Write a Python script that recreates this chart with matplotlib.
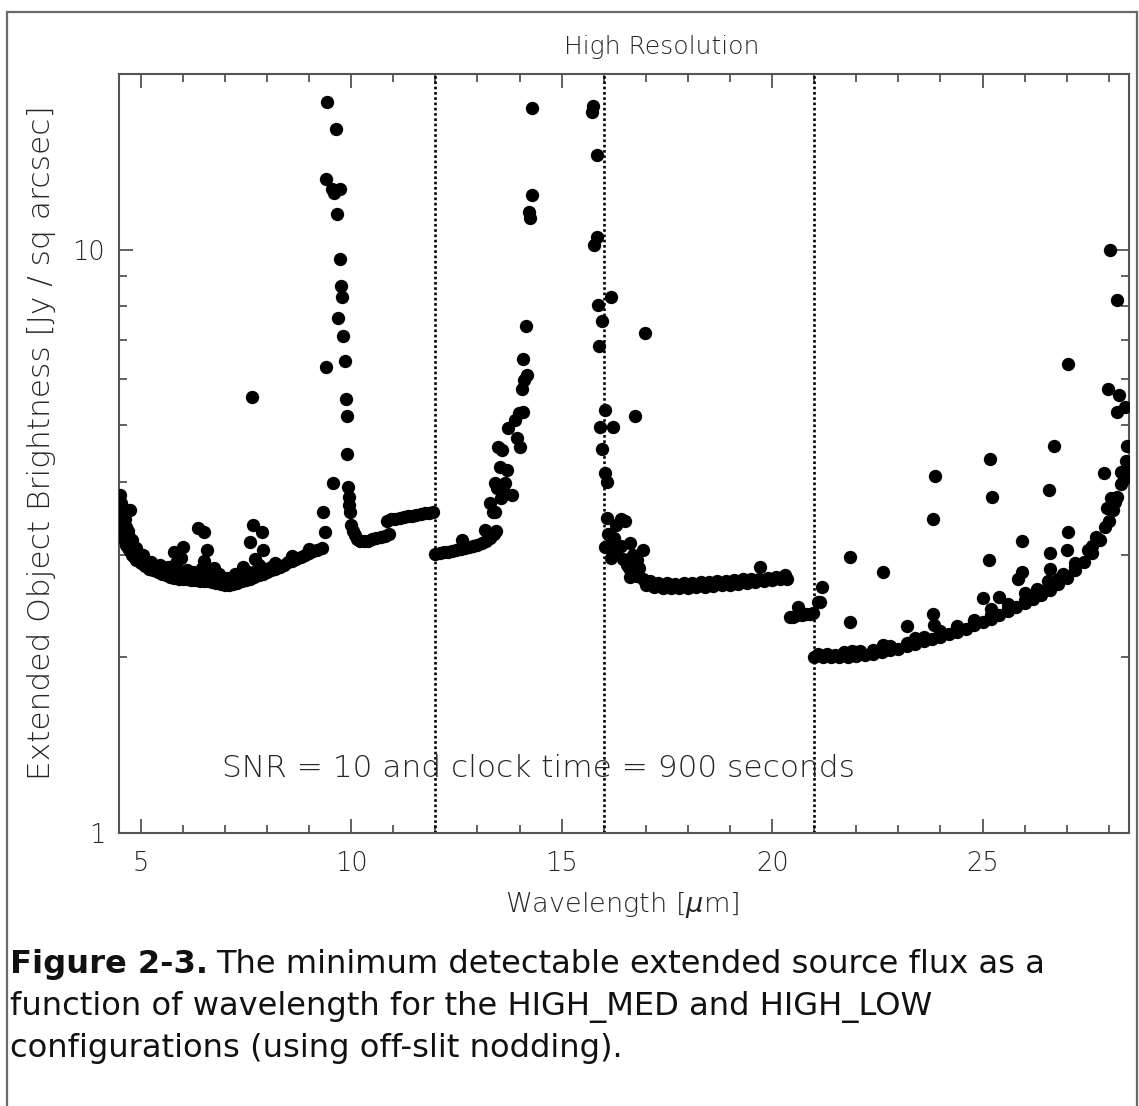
import matplotlib
matplotlib.use('Agg')
import matplotlib.pyplot as plt
from matplotlib.ticker import FixedLocator, NullFormatter, FixedFormatter
from matplotlib.patches import Rectangle

plt.rcParams['font.family'] = ['DejaVu Sans']

# ---------------- data (wavelength [um], brightness [Jy / sq arcsec]) ----------------
band_left = [(4.52, 3.80), (4.53, 3.68), (4.55, 3.58), (4.56, 3.48), (4.57, 3.40), (4.58, 3.32),
             (4.60, 3.24), (4.62, 3.17), (4.66, 3.12), (4.70, 3.08), (4.75, 3.04), (4.80, 3.00),
             (4.85, 2.97), (4.90, 2.94), (5.00, 2.90), (5.10, 2.87), (5.20, 2.84), (5.30, 2.82),
             (5.40, 2.80), (5.50, 2.78), (5.60, 2.77), (5.70, 2.75), (5.80, 2.74), (5.90, 2.73),
             (6.00, 2.72), (6.10, 2.72), (6.20, 2.71), (6.30, 2.71), (6.40, 2.70), (6.50, 2.70),
             (6.60, 2.70), (6.70, 2.69), (6.80, 2.68), (6.90, 2.67), (7.00, 2.66), (7.10, 2.66),
             (7.20, 2.67), (7.30, 2.68), (7.40, 2.70), (7.50, 2.71), (7.60, 2.73), (7.70, 2.75),
             (7.80, 2.77), (7.90, 2.78), (8.00, 2.80), (8.10, 2.82), (8.20, 2.84), (8.30, 2.86),
             (8.40, 2.88), (8.50, 2.91), (8.60, 2.93), (8.70, 2.95), (8.80, 2.97), (8.90, 3.00),
             (9.00, 3.02), (9.10, 3.04), (9.20, 3.06), (9.30, 3.08)]
scatter_left = [(4.75, 3.58), (4.62, 3.45), (4.70, 3.30), (4.80, 3.18), (4.90, 3.08), (5.05, 3.00),
                (5.25, 2.92), (5.45, 2.88), (5.65, 2.86), (5.80, 3.03), (5.85, 2.90), (5.95, 2.96),
                (6.00, 3.09), (6.10, 2.82), (6.25, 2.80), (6.37, 3.33), (6.50, 3.28), (6.57, 3.06),
                (6.50, 2.93), (6.45, 2.85), (6.65, 2.80), (6.75, 2.85), (6.85, 2.78), (7.05, 2.74),
                (7.25, 2.78), (7.43, 2.86), (7.55, 2.80), (7.60, 3.15), (7.67, 3.37), (7.88, 3.28),
                (7.90, 3.06), (7.72, 2.95), (7.80, 2.88), (7.64, 5.60), (8.20, 2.90), (8.60, 2.98),
                (9.00, 3.07), (5.15, 2.92), (5.35, 2.86), (5.55, 2.83), (5.75, 2.82), (5.95, 2.80),
                (6.15, 2.78), (6.35, 2.77), (6.55, 2.76), (6.75, 2.74), (6.95, 2.72), (7.15, 2.72),
                (7.35, 2.74), (7.50, 2.76), (7.70, 2.80), (7.95, 2.84), (8.10, 2.86), (4.66, 3.35),
                (4.72, 3.22), (4.58, 3.60)]
spike_10um = [(9.33, 3.55), (9.38, 3.28), (9.57, 3.98), (9.43, 17.9), (9.64, 16.1), (9.41, 13.2),
              (9.54, 12.7), (9.73, 12.7), (9.59, 12.5), (9.67, 11.5), (9.74, 9.65), (9.76, 8.65),
              (9.78, 8.30), (9.69, 7.62), (9.81, 7.11), (9.85, 6.45), (9.40, 6.30), (9.88, 5.55),
              (9.90, 5.18), (9.90, 4.47), (9.93, 3.92), (9.95, 3.76), (9.95, 3.65), (9.97, 3.55),
              (10.00, 3.37)]
band_11um = [(10.05, 3.30), (10.10, 3.24), (10.15, 3.19), (10.22, 3.16), (10.30, 3.16), (10.40, 3.17),
             (10.50, 3.19), (10.60, 3.20), (10.70, 3.22), (10.80, 3.23), (10.90, 3.25), (10.85, 3.43),
             (10.95, 3.45), (11.05, 3.46), (11.15, 3.47), (11.25, 3.48), (11.35, 3.49), (11.45, 3.50),
             (11.55, 3.51), (11.65, 3.52), (11.75, 3.53), (11.85, 3.54), (11.95, 3.55)]
band_13um = [(12.00, 3.01), (12.10, 3.02), (12.20, 3.03), (12.30, 3.03), (12.40, 3.04), (12.50, 3.05),
             (12.60, 3.07), (12.70, 3.08), (12.80, 3.09), (12.90, 3.10), (13.00, 3.12), (13.10, 3.14),
             (13.20, 3.17), (13.30, 3.21), (13.40, 3.26), (13.45, 3.30), (12.63, 3.18), (13.18, 3.31),
             (13.25, 3.24)]
rise_14um = [(13.37, 3.55), (13.30, 3.68), (13.41, 3.55), (13.41, 3.98), (13.60, 3.92), (13.82, 3.80),
             (13.53, 4.24), (13.70, 4.19), (13.49, 4.58), (13.58, 4.53), (13.72, 4.95), (13.89, 5.10),
             (13.94, 4.76), (14.00, 4.59), (13.99, 5.25), (14.08, 5.27), (14.06, 5.78), (14.10, 5.98),
             (14.17, 6.10), (14.08, 6.50), (14.15, 7.41), (14.22, 11.6), (14.24, 11.35), (14.29, 12.4),
             (14.29, 17.5), (13.46, 3.90), (13.65, 3.98), (13.55, 3.75)]
spike_16um = [(15.75, 17.6), (15.72, 17.2), (15.84, 14.5), (15.84, 10.5), (15.77, 10.2), (16.17, 8.3),
              (15.87, 8.05), (15.96, 7.55), (15.89, 6.84), (16.98, 7.2), (16.03, 5.32), (16.74, 5.18),
              (15.91, 4.97), (16.21, 4.97), (15.96, 4.56), (16.02, 4.14), (16.08, 4.00)]
scatter_17um = [(16.08, 3.47), (16.50, 3.42), (16.30, 3.37), (16.40, 3.45), (16.02, 3.09), (16.18, 2.96),
                (16.62, 3.14), (16.93, 3.06), (16.55, 2.88), (16.79, 2.94), (16.62, 2.75), (16.93, 2.72),
                (16.10, 3.25), (16.25, 3.20), (16.40, 3.10), (16.70, 3.00), (16.85, 2.85), (16.45, 2.95),
                (16.30, 3.05), (16.60, 2.85), (16.80, 2.76), (16.15, 3.12)]
band_18um = [(17.0, 2.66), (17.2, 2.64), (17.4, 2.63), (17.6, 2.63), (17.8, 2.63), (18.0, 2.63),
             (18.2, 2.64), (18.4, 2.64), (18.6, 2.65), (18.8, 2.66), (19.0, 2.66), (19.2, 2.67),
             (19.4, 2.68), (19.6, 2.69), (19.8, 2.70), (20.0, 2.71), (20.2, 2.72), (20.35, 2.72),
             (17.1, 2.70), (17.3, 2.68), (17.5, 2.68), (17.7, 2.67), (17.9, 2.68), (18.1, 2.68),
             (18.3, 2.69), (18.5, 2.69), (18.7, 2.70), (18.9, 2.70), (19.1, 2.71), (19.3, 2.72),
             (19.5, 2.72), (19.7, 2.73), (19.9, 2.74), (20.1, 2.75), (20.3, 2.77), (19.71, 2.86)]
band_21um = [(20.42, 2.35), (20.50, 2.35), (20.60, 2.36), (20.70, 2.36), (20.80, 2.37), (20.90, 2.37),
             (20.97, 2.38), (20.62, 2.44), (21.09, 2.49), (21.14, 2.49), (21.19, 2.64)]
band_long = [(21.0, 2.00), (21.2, 2.00), (21.4, 2.00), (21.6, 2.00), (21.8, 2.00), (22.0, 2.01),
             (22.2, 2.02), (22.4, 2.03), (22.6, 2.04), (22.8, 2.06), (23.0, 2.07), (23.2, 2.09),
             (23.4, 2.11), (23.6, 2.13), (23.8, 2.15), (24.0, 2.17), (24.2, 2.19), (24.4, 2.21),
             (24.6, 2.24), (24.8, 2.27), (25.0, 2.30), (25.2, 2.33), (25.4, 2.36), (25.6, 2.40),
             (25.8, 2.44), (26.0, 2.48), (26.2, 2.52), (26.4, 2.56), (26.6, 2.61), (26.8, 2.67),
             (27.0, 2.74), (27.2, 2.82), (27.4, 2.91), (27.6, 3.02), (27.8, 3.18), (28.0, 3.42),
             (28.1, 3.58), (28.2, 3.76), (28.3, 3.96), (28.42, 4.19),
             (21.1, 2.03), (21.5, 2.02), (22.0, 2.04), (22.4, 2.06), (22.8, 2.09), (23.2, 2.12),
             (23.6, 2.17), (24.0, 2.21), (24.4, 2.25), (24.8, 2.30), (25.2, 2.36), (25.6, 2.43),
             (26.0, 2.51), (26.4, 2.60), (26.8, 2.72), (27.2, 2.86), (27.6, 3.10), (27.9, 3.35),
             (28.15, 3.70), (28.35, 4.05)]
scatter_long = [(21.3, 2.03), (21.7, 2.04), (21.84, 2.97), (21.84, 2.30), (21.9, 2.05), (22.1, 2.05),
                (22.64, 2.80), (22.64, 2.10), (23.2, 2.26), (23.4, 2.16), (23.87, 4.09), (23.82, 3.46),
                (23.82, 2.37), (23.85, 2.27), (24.0, 2.22), (24.4, 2.26), (24.8, 2.32), (25.17, 4.37),
                (25.22, 3.77), (25.15, 2.94), (25.0, 2.53), (25.4, 2.54), (25.2, 2.42), (25.6, 2.47),
                (25.93, 3.17), (25.93, 2.80), (25.85, 2.72), (26.0, 2.58), (26.3, 2.62), (26.69, 4.60),
                (26.58, 3.87), (26.6, 3.02), (26.6, 2.83), (26.55, 2.70), (26.9, 2.78), (27.02, 6.37),
                (27.02, 3.28), (27.0, 3.06), (27.2, 2.90), (27.5, 3.05), (27.7, 3.22), (27.88, 4.14),
                (27.95, 3.60), (28.05, 3.75), (27.97, 5.78), (28.02, 10.0), (28.19, 8.2), (28.24, 5.64),
                (28.19, 5.26), (28.38, 5.38), (28.43, 4.60), (28.40, 4.35), (28.30, 4.15)]

module_edges = [12.0, 16.0, 21.0]
x_major = [5, 10, 15, 20, 25]
x_minor = [6, 7, 8, 9, 11, 12, 13, 14, 16, 17, 18, 19, 21, 22, 23, 24, 26, 27, 28]
y_major = [1, 10]
y_minor = [2, 3, 4, 5, 6, 7, 8, 9]

# ---------------- figure ----------------
W, H = 1139, 1106
fig = plt.figure(figsize=(W / 100, H / 100), dpi=100)
fig.patch.set_facecolor('white')

# outer frame
fig.add_artist(Rectangle((7 / W, -0.02), (1137 - 7) / W, 1 - 12 / H + 0.02,
                         transform=fig.transFigure, fill=False, edgecolor='#6a6a6a', lw=1.6))

ax = fig.add_axes([119 / W, 1 - 833 / H, (1128.6 - 119) / W, (833 - 74) / H])
ax.set_yscale('log')
ax.set_xlim(4.485, 28.47)
ax.set_ylim(1, 20)

segments = [band_left, scatter_left, spike_10um, band_11um, band_13um, rise_14um,
            spike_16um, scatter_17um, band_18um, band_21um, band_long, scatter_long]
for seg in segments:
    xs = [p[0] for p in seg]
    ys = [p[1] for p in seg]
    ax.plot(xs, ys, 'o', color='black', ms=9.6, mec='black', mew=0, zorder=3)

for xe in module_edges:
    ax.axvline(xe, color='black', lw=1.9, ls=(0, (1.0, 1.0)), zorder=2)

text_col = '#262626'
spine_col = '#555555'
for s in ax.spines.values():
    s.set_color(spine_col)
    s.set_linewidth(1.5)

ax.xaxis.set_major_locator(FixedLocator(x_major))
ax.xaxis.set_minor_locator(FixedLocator(x_minor))
ax.xaxis.set_major_formatter(FixedFormatter([str(v) for v in x_major]))
ax.xaxis.set_minor_formatter(NullFormatter())
ax.yaxis.set_major_locator(FixedLocator(y_major))
ax.yaxis.set_minor_locator(FixedLocator(y_minor))
ax.yaxis.set_major_formatter(FixedFormatter([str(v) for v in y_major]))
ax.yaxis.set_minor_formatter(NullFormatter())

ax.tick_params(which='both', direction='in', top=True, right=True, color=spine_col,
               labelcolor=text_col, width=1.3)
ax.tick_params(which='major', length=10)
ax.tick_params(which='minor', length=5.5)
ax.tick_params(axis='x', which='major', labelsize=18.5, pad=13)
ax.tick_params(axis='y', which='major', labelsize=18.5, pad=10)
for lab in ax.get_xticklabels() + ax.get_yticklabels():
    lab.set_fontweight('light')

fig.text(662 / W, 1 - 47 / H, 'High Resolution', ha='center', va='center',
         fontsize=18, color=text_col, fontweight='light')
ax.text(0.102, 0.0856, 'SNR = 10 and clock time = 900 seconds', transform=ax.transAxes,
        ha='left', va='center', fontsize=22.5, color=text_col, fontweight='light')

fig.text(622 / W, 1 - 905 / H, r'Wavelength [$\mu$m]', ha='center', va='center',
         fontsize=19.5, color=text_col, fontweight='light')
fig.text(42 / W, 1 - 443 / H, 'Extended Object Brightness [Jy / sq arcsec]', rotation=90,
         ha='center', va='center', fontsize=22.5, color=text_col, fontweight='light')

# caption
cap_size = 23.1
t1 = fig.text(10 / W, 1 - 973 / H, 'Figure 2-3.', fontsize=cap_size, fontweight='bold',
              color='#111111', ha='left', va='baseline')
fig.canvas.draw()
bb = t1.get_window_extent()
fig.text((bb.x1 + 8) / W, 1 - 973 / H, 'The minimum detectable extended source flux as a',
         fontsize=cap_size, color='#111111', ha='left', va='baseline')
fig.text(10 / W, 1 - 1015 / H, 'function of wavelength for the HIGH_MED and HIGH_LOW',
         fontsize=cap_size, color='#111111', ha='left', va='baseline')
fig.text(10 / W, 1 - 1057 / H, 'configurations (using off-slit nodding).',
         fontsize=cap_size, color='#111111', ha='left', va='baseline')

fig.savefig('out.png', dpi=100)
